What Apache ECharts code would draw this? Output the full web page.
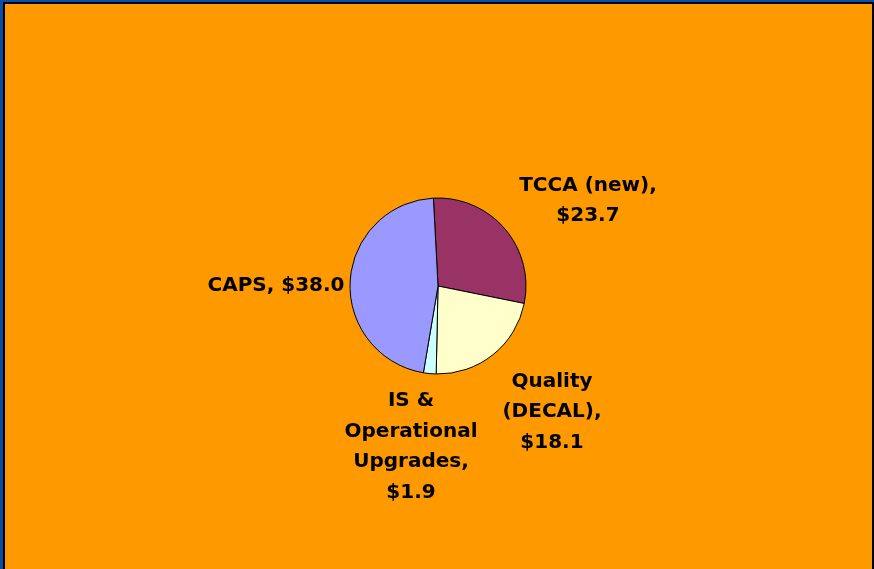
<!DOCTYPE html>
<html>
<head>
    <meta charset="UTF-8">
    <title>Pie</title>
    <script src="https://cdn.jsdelivr.net/npm/echarts@6/dist/echarts.min.js"></script>
    <style>
        html, body {
            margin: 0;
            padding: 0;
            background: #0b4ea2;
            overflow: hidden;
        }
        .frame {
            position: absolute;
            left: 3px;
            top: 2px;
            width: 867px;
            height: 580px;
            border-left: 2px solid #000;
            border-top: 2px solid #000;
            border-right: 2px solid #000;
        }
        #main {
            width: 867px;
            height: 580px;
            background: #ff9900;
        }
    </style>
</head>
<body>
<div class="frame">
    <div id="main"></div>
</div>
<script type="text/javascript">
    // slices, clockwise from the top
    var names = ['TCCA (new)', 'Quality (DECAL)', 'IS & Operational Upgrades', 'CAPS'];
    var values = [23.7, 18.1, 1.9, 38.0];
    var labelText = ['TCCA (new),\n$23.7', 'Quality\n(DECAL),\n$18.1', 'IS &\nOperational\nUpgrades,\n$1.9', 'CAPS, $38.0'];
    var colors = ['#993366', '#ffffcc', '#ccffff', '#9999ff'];

    // label centres (relative to the chart div)
    var labelPos = [[583, 197], [547, 408], [406, 443], [271, 282]];

    var data = [];
    for (var i = 0; i < names.length; i++) {
        data.push({
            name: names[i],
            value: values[i],
            itemStyle: {color: colors[i]},
            label: {formatter: labelText[i]}
        });
    }

    var myChart = echarts.init(document.getElementById('main'));
    var option = {
        animation: false,
        series: [
            {
                type: 'pie',
                center: [433, 282],
                radius: 88,
                startAngle: 93,
                clockwise: true,
                data: data,
                itemStyle: {
                    borderColor: '#000',
                    borderWidth: 1
                },
                label: {
                    show: true,
                    position: 'outside',
                    color: '#000',
                    fontFamily: 'DejaVu Sans',
                    fontWeight: 'bold',
                    fontSize: 20,
                    lineHeight: 30.5
                },
                labelLine: {show: false},
                labelLayout: function (params) {
                    var p = labelPos[params.dataIndex];
                    return {x: p[0], y: p[1], align: 'center', verticalAlign: 'middle'};
                },
                emphasis: {disabled: true}
            }
        ]
    };
    myChart.setOption(option);
</script>
</body>
</html>
